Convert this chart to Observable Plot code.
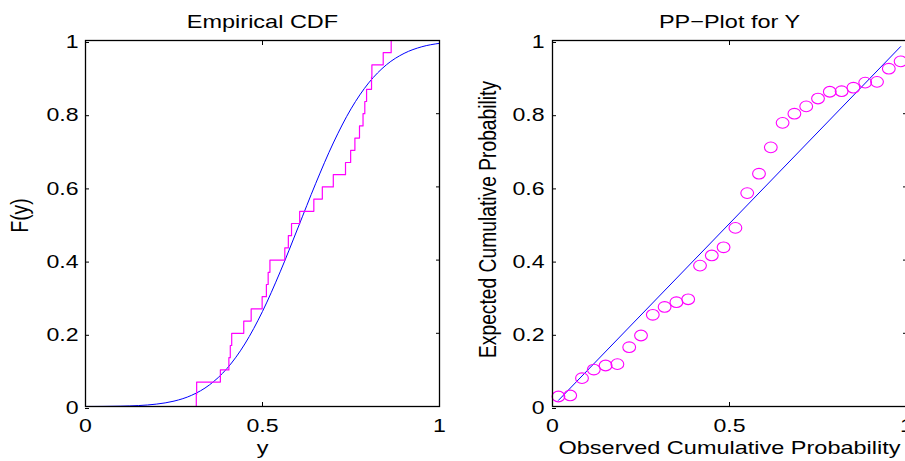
<!DOCTYPE html>
<html>
<head>
<meta charset="utf-8">
<script src="https://cdn.jsdelivr.net/npm/d3@7"></script>
<script src="https://cdn.jsdelivr.net/npm/@observablehq/plot@0.6"></script>
<style>
  html, body { margin: 0; padding: 0; background: white; }
  #chart { position: relative; width: 905px; height: 461px; overflow: hidden; background: white; }
  .panel { position: absolute; top: 0; }
  .panel svg { max-width: none; }
</style>
</head>
<body>
<div id="chart">
  <div class="panel" id="left" style="left:0px;width:452px;height:461px"></div>
  <div class="panel" id="right" style="left:452px;width:470px;height:461px"></div>
</div>
<script>
// ---------- data ----------
// Left panel: empirical CDF (sorted sample values and step heights)
const ecdfX = [0.313, 0.314, 0.381, 0.405, 0.409, 0.413, 0.447, 0.468, 0.499, 0.511,
               0.516, 0.521, 0.563, 0.573, 0.582, 0.605, 0.645, 0.669, 0.700, 0.7345,
               0.749, 0.761, 0.774, 0.784, 0.789, 0.794, 0.808, 0.809, 0.841, 0.8635];
const ecdfF = [0.0333, 0.0667, 0.1, 0.1333, 0.1667, 0.2, 0.2333, 0.2667, 0.3, 0.3333,
               0.3667, 0.4, 0.4333, 0.4667, 0.5, 0.5333, 0.5667, 0.6, 0.6333, 0.6667,
               0.7, 0.7333, 0.7667, 0.8, 0.8333, 0.8667, 0.9, 0.9333, 0.9667, 1];
// Left panel: fitted CDF curve
const cdfX = [0, 0.05, 0.1, 0.15, 0.2, 0.25, 0.3, 0.35, 0.4, 0.45, 0.5,
              0.55, 0.6, 0.65, 0.7, 0.75, 0.8, 0.85, 0.9, 0.95, 1];
const cdfY = [0.0001, 0.0003, 0.001, 0.0026, 0.0065, 0.0147, 0.0307, 0.0589, 0.1042, 0.1708, 0.2598,
              0.368, 0.4878, 0.6087, 0.72, 0.8132, 0.8842, 0.9336, 0.9648, 0.9829, 0.9923];
// Right panel: PP plot
const ppObserved = [0.0167, 0.05, 0.0833, 0.1167, 0.15, 0.1833, 0.2167, 0.25, 0.2833, 0.3167,
                    0.35, 0.3833, 0.4167, 0.45, 0.4833, 0.5167, 0.55, 0.5833, 0.6167, 0.65,
                    0.6833, 0.7167, 0.75, 0.7833, 0.8167, 0.85, 0.8833, 0.9167, 0.95, 0.9833];
const ppExpected = [0.0273, 0.0301, 0.0774, 0.101, 0.112, 0.1157, 0.162, 0.194, 0.2505, 0.272,
                    0.285, 0.293, 0.385, 0.4126, 0.435, 0.488, 0.583, 0.636, 0.708, 0.775,
                    0.8, 0.82, 0.8415, 0.86, 0.8615, 0.871, 0.885, 0.887, 0.923, 0.943];
const refLineX = [0.0167, 0.9833];
const refLineY = [0.0167, 0.9833];
// ticks and texts
const xTicks = [0, 0.5, 1];
const yTicks = [0, 0.2, 0.4, 0.6, 0.8, 1];
const titles = ["Empirical CDF", "PP\u2212Plot for Y"];
const xLabels = ["y", "Observed Cumulative Probability"];
const yLabels = ["F(y)", "Expected Cumulative Probability"];

// ---------- styling ----------
const MAGENTA = "#ff00ff", BLUE = "#0000ff";
const TICK_FS = 17.5, LABEL_FS = 19.25;
const K_TICK = 1.32, K_LABEL = 1.22;   // horizontal stretch of the reference text
const FONT = "'Liberation Sans', Arial, Helvetica, sans-serif";

// tables built from the arrays
const ecdfPts = [{x: ecdfX[0], y: 0}, ...ecdfX.map((x, i) => ({x, y: ecdfF[i]}))];
const cdfPts = cdfX.map((x, i) => ({x, y: cdfY[i]}));
const ppPts = ppObserved.map((x, i) => ({x, y: ppExpected[i]}));
const refPts = refLineX.map((x, i) => ({x, y: refLineY[i]}));

const ellipse = {
  draw(ctx, size) {
    const r = Math.sqrt(size / Math.PI), rx = r * 1.1, ry = r * 0.92, k = 0.5523;
    ctx.moveTo(rx, 0);
    ctx.bezierCurveTo(rx, ry * k, rx * k, ry, 0, ry);
    ctx.bezierCurveTo(-rx * k, ry, -rx, ry * k, -rx, 0);
    ctx.bezierCurveTo(-rx, -ry * k, -rx * k, -ry, 0, -ry);
    ctx.bezierCurveTo(rx * k, -ry, rx, -ry * k, rx, 0);
    ctx.closePath();
  }
};

function axes(yPad) {
  const fmt = d => String(d);
  const blank = () => "";
  return [
    Plot.axisX(xTicks, {anchor: "bottom", tickSize: -4, tickPadding: 17, tickFormat: fmt, fontSize: TICK_FS, label: null}),
    Plot.axisX(xTicks, {anchor: "top", tickSize: -4, tickFormat: blank, label: null}),
    Plot.axisY(yTicks, {anchor: "left", tickSize: -4, tickPadding: yPad, tickFormat: fmt, fontSize: TICK_FS, dy: 2, label: null}),
    Plot.axisY(yTicks, {anchor: "right", tickSize: -4, tickFormat: blank, label: null}),
    Plot.frame({stroke: "black", strokeWidth: 1.3})
  ];
}

function texts(i, yLabDx, yLabDy) {
  return [
    Plot.text([titles[i]], {frameAnchor: "top", textAnchor: "middle", lineAnchor: "top", dy: -26.5, fontSize: LABEL_FS}),
    Plot.text([xLabels[i]], {frameAnchor: "bottom", textAnchor: "middle", lineAnchor: "top", dy: 34, fontSize: LABEL_FS}),
    Plot.text([yLabels[i]], {frameAnchor: "left", textAnchor: "middle", lineAnchor: "middle", rotate: -90, dx: yLabDx, dy: yLabDy, fontSize: LABEL_FS})
  ];
}

function stretchText(svg) {
  svg.querySelectorAll("text").forEach(t => {
    if (!t.textContent) { t.remove(); return; }
    const g = t.closest("g[aria-label]");
    const isTick = g && /tick label/.test(g.getAttribute("aria-label") || "");
    const k = isTick ? K_TICK : K_LABEL;
    let tr = t.getAttribute("transform") || "";
    const x = t.getAttribute("x");
    if (x != null && x !== "" && !isNaN(+x)) { tr += ` translate(${x},0)`; t.removeAttribute("x"); }
    const rot = /rotate\((-?[\d.]+)\)/.exec(tr);
    const r = rot ? Math.abs(+rot[1]) % 180 : 0;
    tr += r === 90 ? ` scale(1,${k})` : ` scale(${k},1)`;
    t.setAttribute("transform", tr.trim());
  });
}

const common = {
  height: 461,
  marginTop: 40,
  marginBottom: 55,
  x: {domain: [0, 1], label: null},
  y: {domain: [0, 1], label: null},
  style: {fontFamily: FONT, fontSize: TICK_FS + "px", background: "white", overflow: "visible", color: "black"}
};

const left = Plot.plot({
  ...common,
  width: 452,
  marginLeft: 85,
  marginRight: 13,
  marks: [
    Plot.line(cdfPts, {x: "x", y: "y", stroke: BLUE, strokeWidth: 1, curve: "monotone-x"}),
    Plot.line(ecdfPts, {x: "x", y: "y", stroke: MAGENTA, strokeWidth: 1.2, curve: "step-after"}),
    ...axes(11),
    ...texts(0, -65, -8)
  ]
});

const right = Plot.plot({
  ...common,
  width: 470,
  marginLeft: 100,
  marginRight: 16,
  marks: [
    Plot.line(refPts, {x: "x", y: "y", stroke: BLUE, strokeWidth: 1}),
    Plot.dot(ppPts, {x: "x", y: "y", stroke: MAGENTA, strokeWidth: 1.1, r: 5.8, symbol: ellipse, fill: "none"}),
    ...axes(12),
    ...texts(1, -64, -4)
  ]
});

document.getElementById("left").appendChild(left);
document.getElementById("right").appendChild(right);
stretchText(left);
stretchText(right);
</script>
</body>
</html>
